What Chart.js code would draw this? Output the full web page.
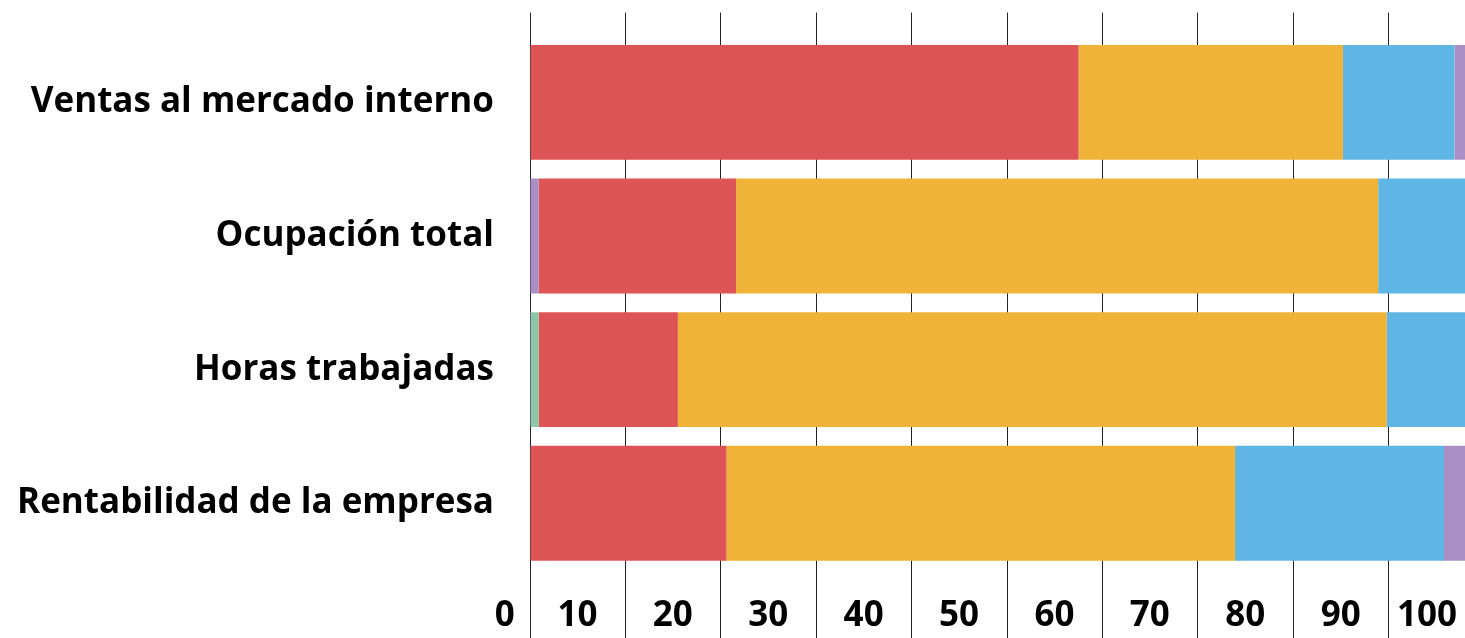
<!DOCTYPE html>
<html>
<head>
<meta charset="utf-8">
<script src="https://cdn.jsdelivr.net/npm/chart.js@4"></script>
<style>
  html, body { margin: 0; padding: 0; background: #fff; }
  canvas { display: block; }
</style>
</head>
<body>
<canvas id="myChart" width="1465" height="638"></canvas>
<script>
// categorias (eje vertical)
var categorias = ["Ventas al mercado interno", "Ocupación total",
		"Horas trabajadas", "Rentabilidad de la empresa"];

// valores de cada serie, en %, en el orden en que se apilan
var verde      = [0, 0, 0.9, 0];
var violetaIni = [0, 0.9, 0, 0];
var rojo       = [57.5, 20.7, 14.6, 20.6];
var amarillo   = [27.7, 67.3, 74.3, 53.3];
var celeste    = [11.7, 11.1, 10.2, 21.9];
var violetaFin = [3.1, 0, 0, 4.2];

// marcas del eje horizontal
var marcas = [0, 10, 20, 30, 40, 50, 60, 70, 80, 90, 100];

var fuente = "'Open Sans', Roboto, sans-serif";

function ponerMarcas(scale) {
	scale.ticks = marcas.map(function(v) { return { value : v }; });
}

var ctx = document.getElementById("myChart");

var myChart = new Chart(ctx, {
	type : 'bar',
	data : {
		labels : categorias,
		datasets : [
			{ label : "verde", data : verde, backgroundColor : '#8cc7aa' },
			{ label : "violeta", data : violetaIni, backgroundColor : '#aa8fc4' },
			{ label : "rojo", data : rojo, backgroundColor : '#dc5456' },
			{ label : "amarillo", data : amarillo, backgroundColor : '#eeb337' },
			{ label : "celeste", data : celeste, backgroundColor : '#5fb6e5' },
			{ label : "violeta 2", data : violetaFin, backgroundColor : '#aa8fc4' }
		]
	},
	options : {
		indexAxis : 'y',
		responsive : false,
		animation : false,
		layout : { padding : 0 },
		datasets : {
			bar : { barPercentage : 0.86, categoryPercentage : 1, borderWidth : 0 }
		},
		plugins : {
			legend : { display : false },
			tooltip : { enabled : false }
		},
		scales : {
			x : {
				stacked : true,
				position : 'bottom',
				min : 0,
				max : 98,
				afterBuildTicks : ponerMarcas,
				afterFit : function(s) {
					s.height = 68;
					s.paddingLeft = 0;
					s.paddingRight = 0;
				},
				border : { display : false },
				grid : { color : '#222', lineWidth : 1, tickLength : 68 },
				ticks : {
					autoSkip : false,
					maxRotation : 0,
					labelOffset : -48,
					padding : -43,
					color : '#000',
					font : { family : fuente, size : 35, weight : 'bold' },
					callback : function(v) {
						if (v === 0) return '     0';
						if (v === 100) return '100  ';
						return '' + v;
					}
				}
			},
			xTop : {
				position : 'top',
				min : 0,
				max : 98,
				afterBuildTicks : ponerMarcas,
				afterFit : function(s) {
					s.height = 35.6;
					s.paddingLeft = 0;
					s.paddingRight = 0;
				},
				border : { display : false },
				grid : { color : '#222', lineWidth : 1, tickLength : 23, drawOnChartArea : false },
				ticks : { display : false }
			},
			y : {
				stacked : true,
				afterFit : function(s) {
					s.width = 530;
					s.paddingTop = 0;
					s.paddingBottom = 0;
				},
				border : { display : false },
				grid : { display : false },
				ticks : {
					padding : 28,
					color : '#000',
					font : { family : fuente, size : 35, weight : 'bold' }
				}
			}
		}
	}
});
</script>
</body>
</html>
